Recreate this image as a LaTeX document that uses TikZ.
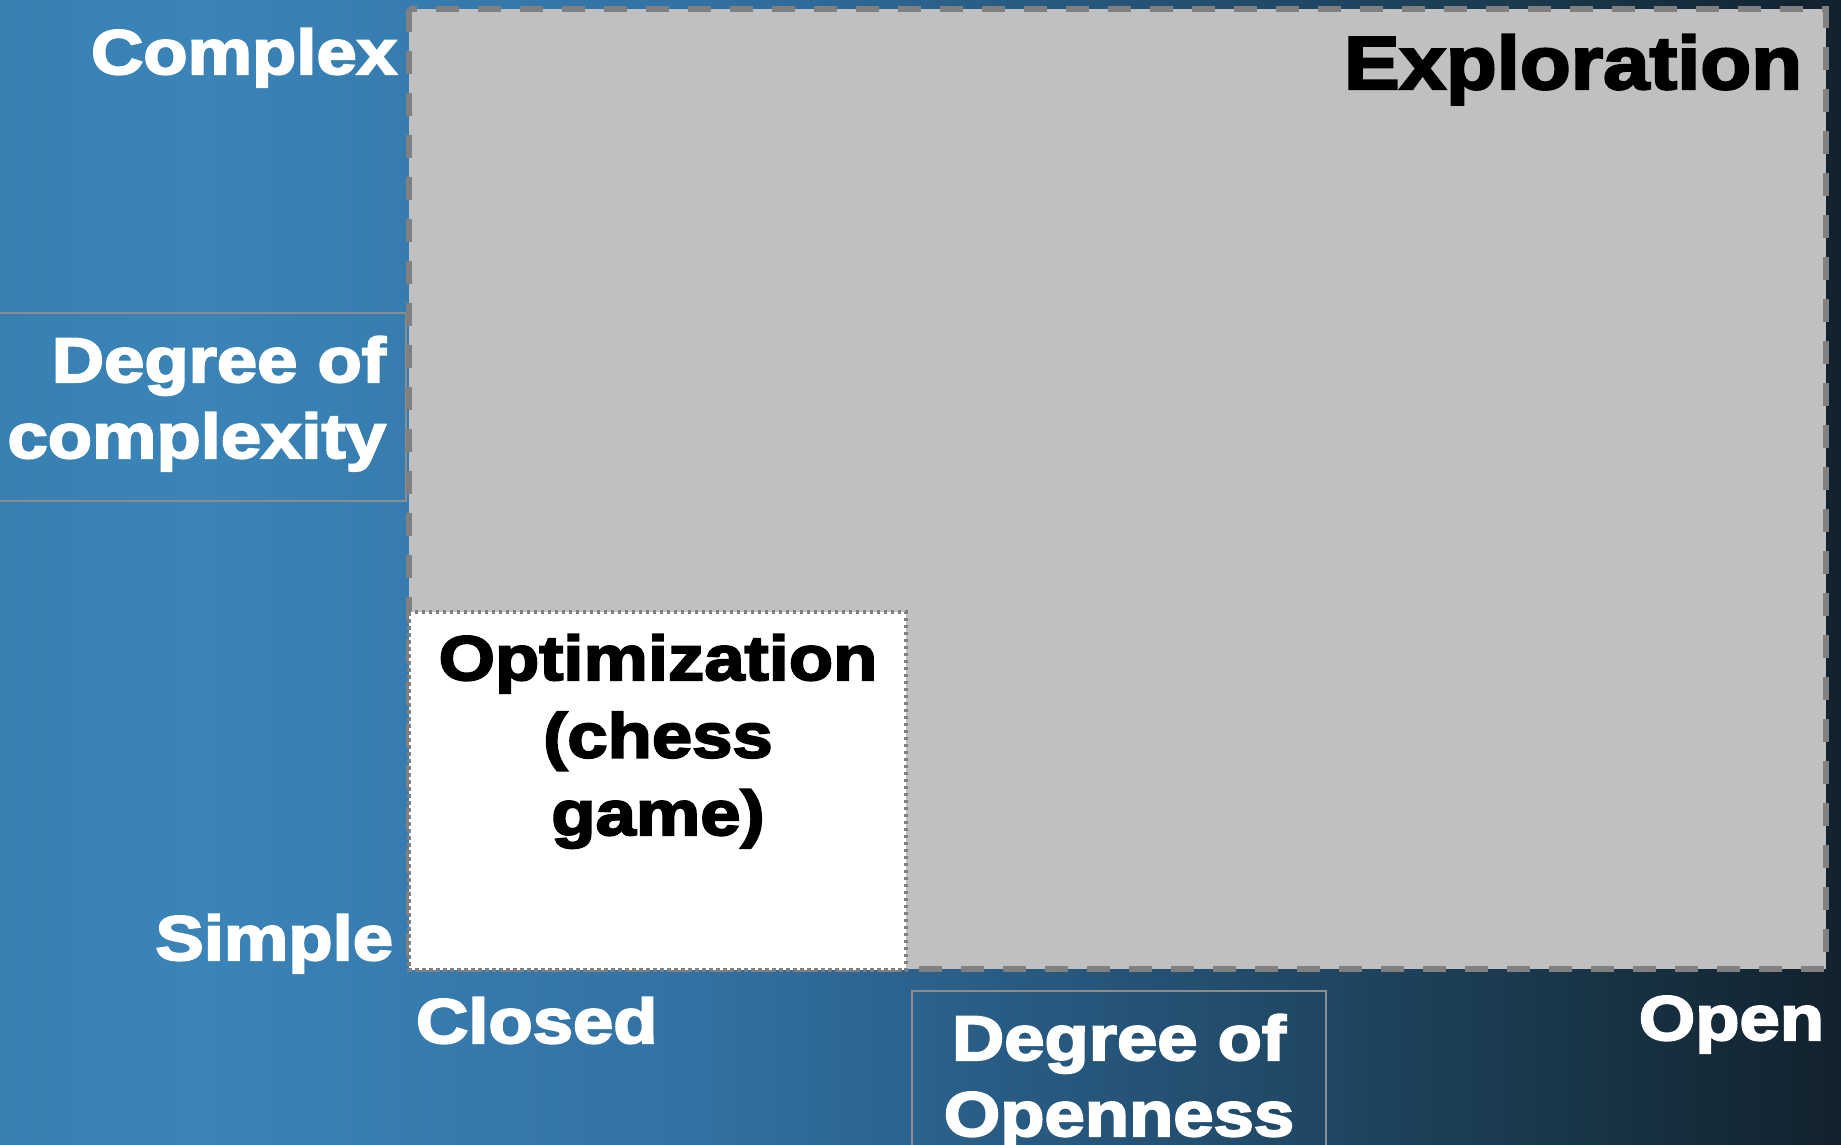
\documentclass[tikz,border=0pt]{standalone}
\usepackage{fontspec}
\newfontfamily\heavy{Liberation Sans}[FakeStretch=1.15,FakeBold=3.2]
\newfontfamily\heavytitle{Liberation Sans}[FakeStretch=1.11,FakeBold=3.2]

% background colours, left to right
\definecolor{bgA}{HTML}{3780B2}
\definecolor{bgB}{HTML}{3A84B8}
\definecolor{bgC}{HTML}{3271A3}
\definecolor{bgD}{HTML}{295C84}
\definecolor{bgE}{HTML}{1F4663}
\definecolor{bgF}{HTML}{183445}
\definecolor{bgG}{HTML}{12212D}
\definecolor{regionfill}{HTML}{C0C0C0}
\definecolor{edge}{HTML}{808080}
\definecolor{frame}{HTML}{8C8C8C}

\pgfdeclarehorizontalshading{backdrop}{100bp}{%
  color(0bp)=(bgA); color(25bp)=(bgA); color(30.43bp)=(bgB);
  color(44bp)=(bgC); color(52.16bp)=(bgD); color(61.12bp)=(bgE);
  color(68.45bp)=(bgF); color(75bp)=(bgG); color(100bp)=(bgG)}

\tikzset{
  lbl/.style={font=\heavy\bfseries\fontsize{63}{76}\selectfont,
              text=white, inner sep=0pt, outer sep=0pt},
  darklbl/.style={lbl, text=black},
  axisframe/.style={draw=frame, line width=2.2pt},
  explorebox/.style={fill=regionfill, draw=edge, line width=6pt,
                     dash pattern=on 23pt off 19pt},
  optbox/.style={fill=white, draw=edge, line width=4pt,
                 dash pattern=on 3.5pt off 3.5pt},
}

\begin{document}
\begin{tikzpicture}[x=1pt,y=-1pt]
\useasboundingbox (0,0) rectangle (1841,1145);
\clip (0,0) rectangle (1841,1145);

% backdrop
\shade[shading=backdrop] (0,0) rectangle (1841,1145);

% axis title frames
\draw[axisframe] (-10,313) rectangle (406,501);
\draw[axisframe] (912,991) rectangle (1326,1160);

% regions
\draw[explorebox] (409,9) rectangle (1826,969);
\draw[optbox] (409,612) rectangle (906,970);

% vertical axis labels
\node[lbl, anchor=base east] (complex) at (397,74) {Complex};
\node[lbl, anchor=base east] (simple) at (393,960) {Simple};
\node[lbl, anchor=base east, align=right] (ycaption) at (386,458)
  {Degree of\\complexity};

% horizontal axis labels
\node[lbl, anchor=base west] (closed) at (416,1043) {Closed};
\node[lbl, anchor=base east] (open) at (1824,1040) {Open};
\node[lbl, anchor=base, align=center] (xcaption) at (1119,1136)
  {Degree of\\Openness};

% region labels
\node[darklbl, anchor=base east, font=\heavytitle\bfseries\fontsize{75}{90}\selectfont]
  (exploration) at (1802,89) {Exploration};
\node[darklbl, anchor=base, align=center, font=\heavy\bfseries\fontsize{63}{77.5}\selectfont]
  (optimization) at (658,835) {Optimization\\(chess\\game)};
\end{tikzpicture}
\end{document}
